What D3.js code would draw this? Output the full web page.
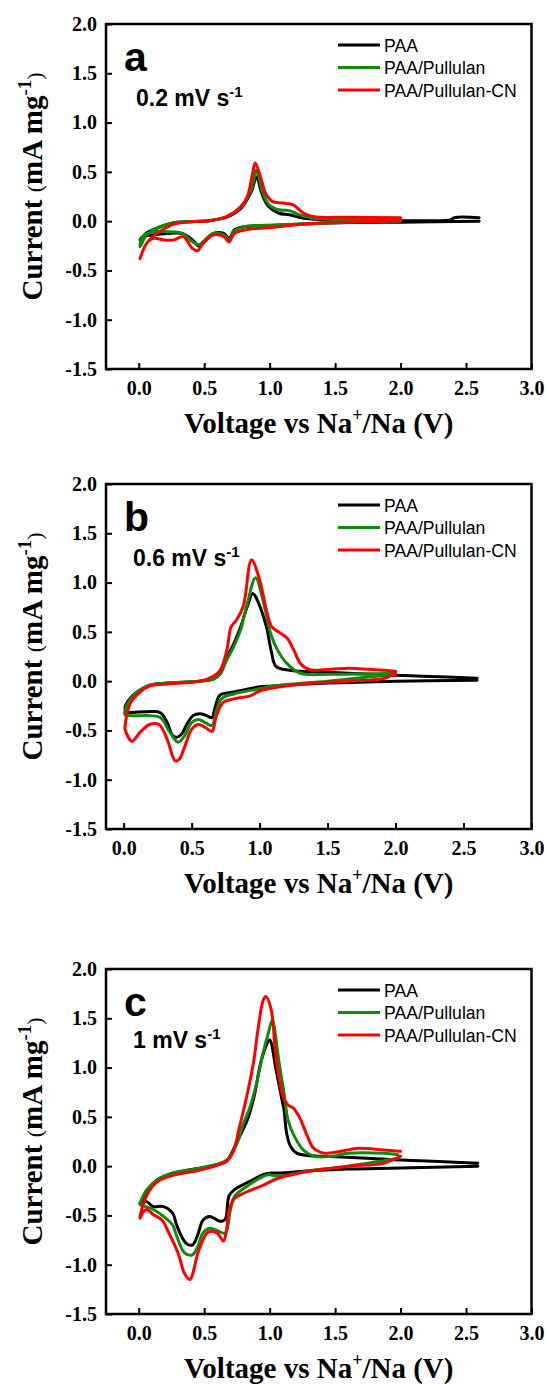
<!DOCTYPE html>
<html>
<head>
<meta charset="utf-8">
<script src="https://cdn.jsdelivr.net/npm/d3@7"></script>
<style>
  html, body { margin: 0; padding: 0; background: #ffffff; }
  svg { display: block; }
</style>
</head>
<body>
<div id="chart"></div>
<script>
// ---------------- DATA ----------------
const seriesNames = ["PAA", "PAA/Pullulan", "PAA/Pullulan-CN"];
const seriesColors = ["#000000", "#0c8c0c", "#ff0000"];
const panelLetters = ["a", "b", "c"];
const scanRates = ["0.2", "0.6", "1"];
const xTicks = [0.0, 0.5, 1.0, 1.5, 2.0, 2.5, 3.0];
const yTicks = [-1.5, -1.0, -0.5, 0.0, 0.5, 1.0, 1.5, 2.0];

// Panel a (0.2 mV/s) — voltage (V) / current (mA/mg), path order: cathodic then anodic
const aPAA_V = [2.60, 2.00, 1.60, 1.07, 0.81, 0.73, 0.69, 0.65, 0.57, 0.49, 0.46, 0.41, 0.33, 0.22, 0.11, 0.03, 0.01,
                0.06, 0.14, 0.27, 0.54, 0.67, 0.78, 0.86, 0.90, 0.94, 0.99, 1.07, 1.15, 1.26, 1.60, 2.14, 2.38, 2.41, 2.60];
const aPAA_I = [0.00, -0.01, -0.015, -0.04, -0.056, -0.09, -0.175, -0.125, -0.125, -0.225, -0.255, -0.19, -0.125, -0.125, -0.14, -0.16, -0.19,
                -0.12, -0.07, -0.015, 0.005, 0.04, 0.13, 0.30, 0.45, 0.28, 0.15, 0.08, 0.065, 0.03, 0.012, 0.005, 0.012, 0.035, 0.035];
const aPUL_V = [2.00, 1.60, 1.07, 0.81, 0.73, 0.69, 0.65, 0.57, 0.49, 0.46, 0.41, 0.33, 0.22, 0.11, 0.03, 0.01,
                0.06, 0.14, 0.27, 0.54, 0.67, 0.78, 0.86, 0.90, 0.94, 0.99, 1.07, 1.15, 1.23, 1.34, 1.60, 2.00];
const aPUL_I = [0.00, -0.01, -0.04, -0.056, -0.10, -0.19, -0.14, -0.125, -0.21, -0.24, -0.21, -0.125, -0.107, -0.107, -0.157, -0.26,
                -0.14, -0.07, -0.015, 0.005, 0.04, 0.14, 0.32, 0.52, 0.32, 0.175, 0.115, 0.107, 0.063, 0.03, 0.015, 0.015];
const aCN_V = [2.00, 1.34, 1.07, 0.81, 0.73, 0.69, 0.65, 0.57, 0.49, 0.45, 0.41, 0.34, 0.27, 0.19, 0.11, 0.06, 0.01,
               0.06, 0.14, 0.27, 0.41, 0.54, 0.67, 0.78, 0.83, 0.87, 0.89, 0.93, 0.97, 1.02, 1.13, 1.18, 1.26, 1.34, 1.60, 2.00];
const aCN_I = [0.005, -0.022, -0.056, -0.09, -0.124, -0.21, -0.157, -0.14, -0.225, -0.30, -0.276, -0.157, -0.19, -0.19, -0.174, -0.225, -0.38,
               -0.225, -0.124, -0.03, -0.005, 0.005, 0.045, 0.147, 0.25, 0.485, 0.59, 0.45, 0.28, 0.20, 0.18, 0.165, 0.08, 0.045, 0.04, 0.035];

// Panel b (0.6 mV/s)
const bPAA_V = [2.60, 2.00, 1.50, 1.10, 0.99, 0.81, 0.71, 0.67, 0.65, 0.61, 0.56, 0.51, 0.46, 0.43, 0.39, 0.36, 0.32, 0.27, 0.17, 0.02,
                0.01, 0.05, 0.12, 0.19, 0.32, 0.56, 0.66, 0.71, 0.76, 0.81, 0.86, 0.91, 0.95, 0.99, 1.05, 1.085, 1.12, 1.22, 1.50, 2.00, 2.20, 2.60];
const bPAA_I = [0.01, 0.00, -0.02, -0.05, -0.06, -0.11, -0.14, -0.28, -0.37, -0.35, -0.33, -0.35, -0.45, -0.53, -0.57, -0.55, -0.42, -0.32, -0.31, -0.31,
                -0.27, -0.17, -0.09, -0.04, -0.02, 0.00, 0.02, 0.075, 0.24, 0.38, 0.55, 0.76, 0.89, 0.80, 0.55, 0.31, 0.15, 0.11, 0.09, 0.06, 0.05, 0.03];
const bPUL_V = [2.00, 1.50, 1.10, 0.99, 0.81, 0.72, 0.68, 0.65, 0.60, 0.55, 0.50, 0.45, 0.40, 0.34, 0.27, 0.19, 0.01,
                0.01, 0.05, 0.12, 0.19, 0.32, 0.56, 0.66, 0.71, 0.76, 0.81, 0.86, 0.91, 0.97, 1.03, 1.08, 1.13, 1.20, 1.30, 1.52, 2.00];
const bPUL_I = [0.07, 0.00, -0.05, -0.08, -0.13, -0.18, -0.31, -0.45, -0.42, -0.39, -0.42, -0.55, -0.62, -0.52, -0.37, -0.35, -0.34,
                -0.30, -0.18, -0.09, -0.04, -0.02, 0.00, 0.02, 0.08, 0.22, 0.35, 0.52, 0.79, 1.05, 0.79, 0.49, 0.32, 0.18, 0.08, 0.07, 0.08];
const bCN_V = [2.00, 1.92, 1.66, 1.40, 1.14, 1.00, 0.93, 0.81, 0.73, 0.68, 0.65, 0.60, 0.55, 0.50, 0.45, 0.41, 0.38, 0.32, 0.26, 0.19, 0.12, 0.06, 0.01,
               0.01, 0.05, 0.12, 0.19, 0.32, 0.56, 0.66, 0.71, 0.76, 0.79, 0.83, 0.88, 0.94, 1.00, 1.05, 1.09, 1.15, 1.20, 1.25, 1.30, 1.37, 1.52, 1.66, 1.80, 1.92, 2.00];
const bCN_I = [0.08, 0.03, 0.00, -0.02, -0.06, -0.10, -0.15, -0.18, -0.22, -0.36, -0.51, -0.47, -0.44, -0.49, -0.66, -0.79, -0.81, -0.59, -0.44, -0.44, -0.52, -0.61, -0.49,
               -0.46, -0.22, -0.11, -0.05, -0.03, 0.00, 0.05, 0.11, 0.32, 0.55, 0.62, 0.76, 1.23, 1.03, 0.72, 0.55, 0.49, 0.44, 0.32, 0.18, 0.115, 0.12, 0.13, 0.12, 0.11, 0.10];

// Panel c (1 mV/s)
const cPAA_V = [2.59, 2.00, 1.60, 1.34, 1.07, 0.98, 0.81, 0.73, 0.69, 0.66, 0.62, 0.59, 0.54, 0.49, 0.45, 0.41, 0.36, 0.29, 0.26, 0.19, 0.11, 0.06, 0.01,
                0.01, 0.06, 0.14, 0.27, 0.54, 0.67, 0.72, 0.77, 0.83, 0.88, 0.93, 0.97, 1.00, 1.05, 1.09, 1.11, 1.13, 1.16, 1.21, 1.39, 1.47, 2.00, 2.59];
const cPAA_I = [0.00, -0.02, -0.03, -0.045, -0.07, -0.075, -0.18, -0.24, -0.30, -0.54, -0.56, -0.54, -0.51, -0.55, -0.70, -0.80, -0.78, -0.60, -0.48, -0.41, -0.41, -0.36, -0.37,
                -0.38, -0.26, -0.14, -0.07, 0.00, 0.05, 0.16, 0.30, 0.47, 0.70, 1.04, 1.21, 1.28, 0.97, 0.70, 0.57, 0.33, 0.20, 0.13, 0.10, 0.097, 0.063, 0.03];
const cPUL_V = [1.98, 1.60, 1.34, 1.07, 0.98, 0.81, 0.73, 0.70, 0.66, 0.61, 0.54, 0.49, 0.45, 0.41, 0.35, 0.29, 0.26, 0.19, 0.11, 0.05, 0.01,
                0.01, 0.06, 0.14, 0.26, 0.47, 0.67, 0.75, 0.80, 0.85, 0.90, 0.95, 0.99, 1.02, 1.07, 1.11, 1.14, 1.19, 1.26, 1.34, 1.47, 1.60, 1.87, 1.98];
const cPUL_I = [0.08, 0.00, -0.04, -0.10, -0.09, -0.22, -0.31, -0.45, -0.68, -0.66, -0.63, -0.68, -0.82, -0.90, -0.88, -0.71, -0.60, -0.51, -0.44, -0.41, -0.39,
                -0.38, -0.24, -0.14, -0.07, -0.02, 0.06, 0.23, 0.43, 0.60, 0.84, 1.15, 1.35, 1.48, 1.07, 0.74, 0.47, 0.30, 0.16, 0.10, 0.10, 0.13, 0.13, 0.115];
const cCN_V = [2.00, 1.87, 1.60, 1.34, 1.23, 1.07, 0.94, 0.81, 0.73, 0.69, 0.67, 0.646, 0.60, 0.53, 0.46, 0.39, 0.35, 0.30, 0.22, 0.18, 0.11, 0.06, 0.03, 0.01,
               0.01, 0.06, 0.14, 0.27, 0.47, 0.67, 0.72, 0.77, 0.83, 0.88, 0.91, 0.95, 0.97, 1.01, 1.05, 1.10, 1.14, 1.18, 1.23, 1.28, 1.33, 1.39, 1.42, 1.60, 1.66, 1.87, 2.00];
const cCN_I = [0.10, 0.03, 0.00, -0.045, -0.07, -0.12, -0.20, -0.27, -0.33, -0.45, -0.65, -0.76, -0.68, -0.67, -0.85, -1.15, -1.09, -0.88, -0.65, -0.55, -0.49, -0.44, -0.47, -0.53,
               -0.51, -0.30, -0.16, -0.09, -0.04, 0.05, 0.14, 0.40, 0.74, 1.08, 1.38, 1.68, 1.72, 1.60, 1.08, 0.72, 0.62, 0.59, 0.49, 0.33, 0.19, 0.14, 0.13, 0.165, 0.18, 0.165, 0.15];

const panelSeries = [
  [[aPAA_V, aPAA_I], [aPUL_V, aPUL_I], [aCN_V, aCN_I]],
  [[bPAA_V, bPAA_I], [bPUL_V, bPUL_I], [bCN_V, bCN_I]],
  [[cPAA_V, cPAA_I], [cPUL_V, cPUL_I], [cCN_V, cCN_I]]
];
const xDomains = [[-0.25, 3.0], [-0.13, 3.0], [-0.25, 3.0]];
const yDomain = [-1.5, 2.0];

// ---------------- LAYOUT ----------------
const W = 547, H = 1385;
const panelTops = [24, 484, 969];
const boxLeft = 106, boxRight = 531.5, boxH = 345;

const svg = d3.select("#chart").append("svg")
  .attr("width", W).attr("height", H)
  .attr("viewBox", `0 0 ${W} ${H}`);
svg.append("rect").attr("width", W).attr("height", H).attr("fill", "#fff");

const serif = "'Liberation Serif', 'Times New Roman', serif";
const sans = "'Liberation Sans', Arial, sans-serif";
const fmt = d => d.toFixed(1);

panelTops.forEach((top, p) => {
  const bottom = top + boxH;
  const x = d3.scaleLinear().domain(xDomains[p]).range([boxLeft, boxRight]);
  const y = d3.scaleLinear().domain(yDomain).range([bottom, top]);
  const g = svg.append("g");

  // curves
  const line = d3.line().x(d => x(d[0])).y(d => y(d[1])).curve(d3.curveCatmullRom.alpha(0.5));
  panelSeries[p].forEach((s, k) => {
    const pts = s[0].map((v, i) => [v, s[1][i]]);
    g.append("path").datum(pts)
      .attr("d", line)
      .attr("fill", "none")
      .attr("stroke", seriesColors[k])
      .attr("stroke-width", 3)
      .attr("stroke-linejoin", "round")
      .attr("stroke-linecap", "round");
  });

  // axes
  const xAxis = g.append("g").attr("transform", `translate(0,${bottom})`)
    .call(d3.axisBottom(x).tickValues(xTicks).tickSize(-6).tickPadding(12).tickFormat(fmt));
  const yAxis = g.append("g").attr("transform", `translate(${boxLeft},0)`)
    .call(d3.axisLeft(y).tickValues(yTicks).tickSize(-6).tickPadding(9).tickFormat(fmt));
  [xAxis, yAxis].forEach(ax => {
    ax.select(".domain").remove();
    ax.selectAll(".tick line").attr("stroke", "#000").attr("stroke-width", 2);
    ax.selectAll(".tick text")
      .attr("fill", "#000")
      .style("font-family", serif)
      .style("font-weight", "bold")
      .style("font-size", "20px");
  });

  // frame
  g.append("rect")
    .attr("x", boxLeft).attr("y", top)
    .attr("width", boxRight - boxLeft).attr("height", boxH)
    .attr("fill", "none").attr("stroke", "#000").attr("stroke-width", 2.5);

  // panel letter
  g.append("text").attr("x", boxLeft + 18).attr("y", top + 47)
    .style("font-family", sans).style("font-weight", "bold").style("font-size", "41px")
    .text(panelLetters[p]);

  // scan rate
  const rt = g.append("text").attr("x", p === 0 ? 136 : 133).attr("y", top + (p === 2 ? 79 : 82))
    .style("font-family", sans).style("font-weight", "bold").style("font-size", "23px");
  rt.append("tspan").text(scanRates[p] + " mV s");
  rt.append("tspan").attr("dy", -9).style("font-size", "15px").text("-1");

  // legend
  seriesNames.forEach((name, k) => {
    const ly = top + 21 + k * 22.5;
    g.append("line").attr("x1", 338).attr("x2", 380).attr("y1", ly).attr("y2", ly)
      .attr("stroke", seriesColors[k]).attr("stroke-width", 3);
    g.append("text").attr("x", 384).attr("y", ly + 6.5)
      .style("font-family", sans).style("font-size", "17.6px").attr("fill", "#000")
      .text(name);
  });

  // y title
  const cy = top + boxH / 2 - 10;
  const yt = g.append("text")
    .attr("transform", `translate(42,${cy}) rotate(-90)`)
    .attr("text-anchor", "middle")
    .style("font-family", serif).style("font-weight", "bold").style("font-size", "29px");
  yt.append("tspan").text("Current ");
  yt.append("tspan").style("font-weight", "normal").style("font-size", "22px").text("(");
  yt.append("tspan").text("mA mg");
  yt.append("tspan").attr("dy", -11).style("font-size", "19px").text("-1");
  yt.append("tspan").attr("dy", 11).style("font-weight", "normal").style("font-size", "22px").text(")");

  // x title
  const xt = g.append("text")
    .attr("x", (boxLeft + boxRight) / 2).attr("y", bottom + 64)
    .attr("text-anchor", "middle")
    .style("font-family", serif).style("font-weight", "bold").style("font-size", "29px");
  xt.append("tspan").text("Voltage vs Na");
  xt.append("tspan").attr("dy", -12).style("font-size", "18px").text("+");
  xt.append("tspan").attr("dy", 12).text("/Na (V)");
});
</script>
</body>
</html>
